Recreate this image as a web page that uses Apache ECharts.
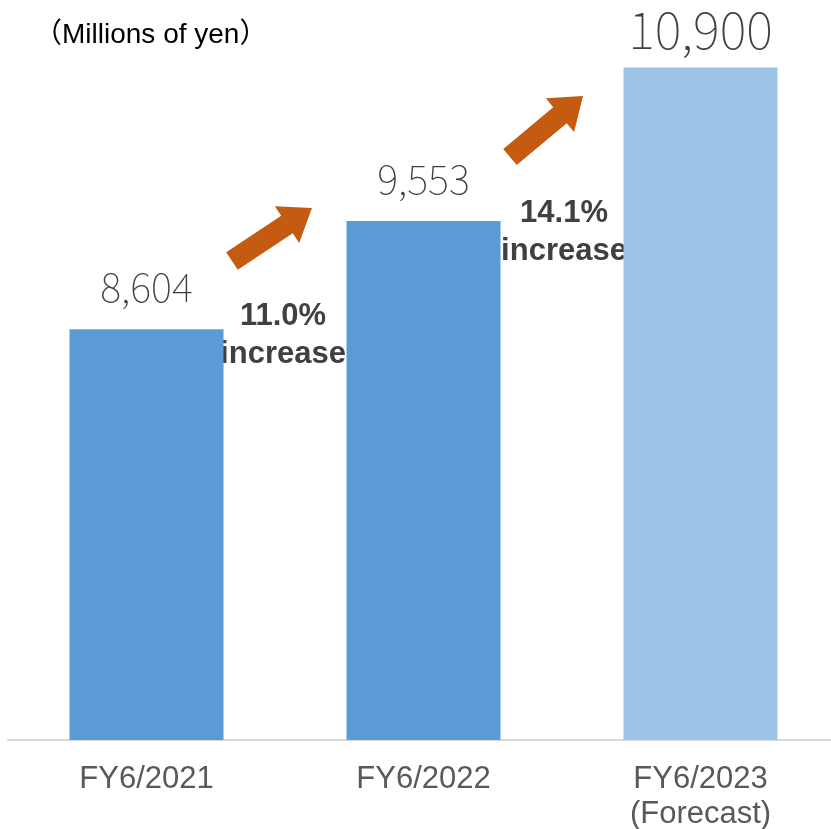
<!DOCTYPE html>
<html>
<head>
<meta charset="utf-8">
<script src="https://cdn.jsdelivr.net/npm/echarts@6/dist/echarts.min.js"></script>
<style>
  html, body { margin: 0; padding: 0; background: #fff; }
  #chart { width: 831px; height: 829px; }
</style>
</head>
<body>
<div id="chart"></div>
<script>
var categories = ['FY6/2021', 'FY6/2022', 'FY6/2023\n(Forecast)'];
var sales = [8604, 9553, 10900];
var barColors = ['#5b9bd5', '#5b9bd5', '#9dc3e6'];
var growthLabels = ['11.0%\nincrease', '14.1%\nincrease'];

var myChart = echarts.init(document.getElementById('chart'));

var option = {
    animation: false,
    title: {
        text: '（Millions of yen）',
        left: 29,
        top: 16,
        textStyle: {
            color: '#000',
            fontSize: 28,
            fontWeight: 'normal',
            fontFamily: 'Liberation Sans, Noto Sans CJK JP'
        }
    },
    grid: {
        left: 8,
        width: 831,
        top: 56,
        bottom: 89,
        containLabel: false,
        outerBoundsMode: 'none'
    },
    xAxis: {
        type: 'category',
        data: categories,
        axisLine: {
            show: true,
            lineStyle: { color: '#d9d9d9', width: 2 }
        },
        axisTick: { show: false },
        axisLabel: {
            color: '#595959',
            fontSize: 31,
            fontFamily: 'Liberation Sans',
            margin: 22,
            lineHeight: 35
        }
    },
    yAxis: {
        type: 'value',
        min: 5000,
        max: 11000,
        show: false,
        splitLine: { show: false }
    },
    series: [{
        type: 'bar',
        barWidth: '55.6%',
        data: sales.map(function (v, i) {
            return {
                value: v,
                itemStyle: { color: barColors[i] },
                label: i === 2 ? { fontSize: 51, distance: 12 } : {}
            };
        }),
        label: {
            show: true,
            position: 'top',
            distance: 22,
            color: '#404040',
            fontSize: 40,
            fontWeight: 'lighter',
            fontFamily: 'Noto Sans CJK JP',
            formatter: function (p) {
                return p.value.toLocaleString('en-US');
            }
        }
    }]
};
myChart.setOption(option);

// arrow annotations between bars
function arrowPoints(tail, tip, shaftW, headW, headL) {
    var dx = tip[0] - tail[0], dy = tip[1] - tail[1];
    var len = Math.sqrt(dx * dx + dy * dy);
    var ux = dx / len, uy = dy / len;
    var nx = -uy, ny = ux;
    var bx = tip[0] - ux * headL, by = tip[1] - uy * headL;
    return [
        [tail[0] + nx * shaftW / 2, tail[1] + ny * shaftW / 2],
        [bx + nx * shaftW / 2, by + ny * shaftW / 2],
        [bx + nx * headW / 2, by + ny * headW / 2],
        tip,
        [bx - nx * headW / 2, by - ny * headW / 2],
        [bx - nx * shaftW / 2, by - ny * shaftW / 2],
        [tail[0] - nx * shaftW / 2, tail[1] - ny * shaftW / 2]
    ];
}

var arrows = [
    { tail: [232, 261], tip: [312, 208] },
    { tail: [510, 157], tip: [583, 96] }
];
var texts = [
    { x: 283, y: 335 },
    { x: 564, y: 232 }
];

var graphics = [];
arrows.forEach(function (a) {
    graphics.push({
        type: 'polygon',
        shape: { points: arrowPoints(a.tail, a.tip, 21, 44, 30) },
        style: { fill: '#c55a11' }
    });
});
growthLabels.forEach(function (t, i) {
    graphics.push({
        type: 'text',
        x: texts[i].x,
        y: texts[i].y,
        style: {
            text: t,
            fill: '#404040',
            font: 'bold 31px Liberation Sans',
            lineHeight: 38,
            align: 'center',
            verticalAlign: 'middle'
        }
    });
});
myChart.setOption({ graphic: graphics });

window.addEventListener('resize', function () {
    myChart.resize();
});
</script>
</body>
</html>
